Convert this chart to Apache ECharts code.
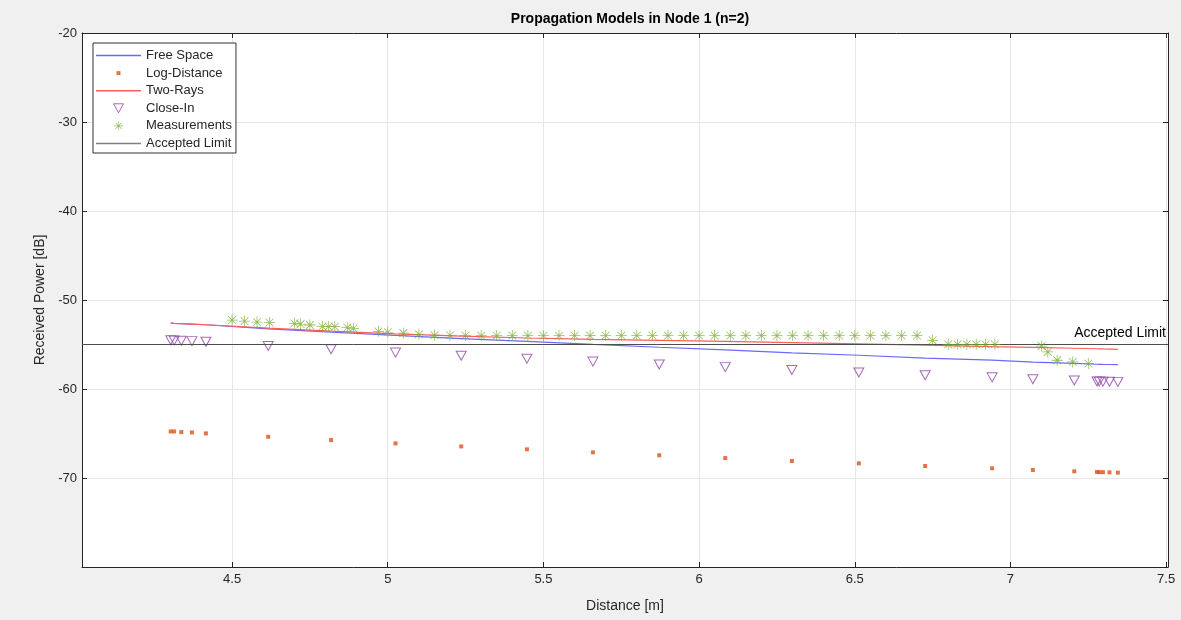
<!DOCTYPE html>
<html>
<head>
<meta charset="utf-8">
<title>Propagation Models in Node 1 (n=2)</title>
<script src="https://cdn.jsdelivr.net/npm/echarts@6/dist/echarts.min.js"></script>
<style>
  html, body { margin: 0; padding: 0; background: #f0f0f0; }
  #chart { width: 1181px; height: 620px; }
</style>
</head>
<body>
<div id="chart"></div>
<script>
// distances of the model points [m]
const distances = [4.303, 4.314, 4.337, 4.371, 4.416, 4.616, 4.818, 5.025, 5.236, 5.447, 5.659, 5.872,
  6.084, 6.298, 6.513, 6.726, 6.941, 7.072, 7.205, 7.278, 7.285, 7.297, 7.318, 7.345];

// model curves [dB]
const freeSpace = [-52.60, -52.62, -52.66, -52.70, -52.78, -53.24, -53.61, -53.98, -54.34, -54.66, -54.99, -55.31,
  -55.61, -55.94, -56.21, -56.53, -56.76, -56.97, -57.12, -57.22, -57.23, -57.24, -57.25, -57.27];
const logDistance = [-64.77, -64.77, -64.84, -64.88, -64.99, -65.37, -65.74, -66.11, -66.45, -66.78, -67.12, -67.45,
  -67.76, -68.09, -68.35, -68.65, -68.91, -69.10, -69.25, -69.33, -69.34, -69.35, -69.37, -69.40];
const twoRays = [-52.60, -52.62, -52.66, -52.70, -52.78, -53.17, -53.50, -53.80, -54.05, -54.27, -54.42, -54.54,
  -54.66, -54.79, -54.93, -55.08, -55.24, -55.33, -55.42, -55.48, -55.49, -55.50, -55.51, -55.54];
const closeIn = [-54.53, -54.54, -54.58, -54.62, -54.70, -55.17, -55.54, -55.91, -56.27, -56.59, -56.92, -57.24,
  -57.54, -57.87, -58.14, -58.46, -58.69, -58.90, -59.05, -59.15, -59.16, -59.17, -59.18, -59.20];

// measured points
const measDistances = [4.50, 4.54, 4.58, 4.62, 4.70, 4.72, 4.75, 4.79, 4.81, 4.83, 4.87, 4.89,
  4.97, 5.00, 5.05, 5.10, 5.15, 5.20, 5.25, 5.30, 5.35, 5.40, 5.45, 5.50, 5.55, 5.60, 5.65, 5.70,
  5.75, 5.80, 5.85, 5.90, 5.95, 6.00, 6.05, 6.10, 6.15, 6.20, 6.25, 6.30, 6.35, 6.40, 6.45, 6.50,
  6.55, 6.60, 6.65, 6.70, 6.75, 6.80, 6.83, 6.86, 6.89, 6.92, 6.95, 7.10, 7.12, 7.15, 7.20, 7.25];
const measurements = [-52.25, -52.37, -52.48, -52.55, -52.62, -52.70, -52.81, -52.99, -52.99, -52.99, -53.11, -53.18,
  -53.52, -53.60, -53.71, -53.86, -53.94, -53.97, -54.00, -54.00, -54.00, -54.00, -54.00, -54.00, -54.00, -54.00, -54.00, -54.00,
  -54.00, -54.00, -54.00, -54.00, -54.00, -54.00, -54.00, -54.00, -54.00, -54.00, -54.00, -54.00, -54.00, -54.00, -54.00, -54.00,
  -54.00, -54.00, -54.00, -54.00, -54.53, -54.98, -54.98, -54.98, -54.98, -54.98, -54.98, -55.17, -55.84, -56.77, -56.96, -57.14];

const acceptedLimit = -55;

// axis ticks
const xTicks = [4.5, 5, 5.5, 6, 6.5, 7, 7.5];
const yTicks = [-70, -60, -50, -40, -30, -20];

const pairs = (xs, ys) => xs.map((x, i) => [x, ys[i]]);

// asterisk marker (+ and x overlaid)
const asterisk = "path://M0 9.3H20V10.7H0Z M9.3 0H10.7V20H9.3Z " +
  "M3.43 2.44L17.56 16.57L16.57 17.56L2.44 3.43Z M16.57 2.44L17.56 3.43L3.43 17.56L2.44 16.57Z";

// legend icons (kept to aspect inside a 45x9 box)
const lineIcon = "path://M0 0H45V1.5H0Z";
const dotIcon = "path://M0 0M9 9M2.5 2.5H6.5V6.5H2.5Z";
const triIcon = "path://M0 0H10L5 9Z";

const font = "'Liberation Sans', Arial, Helvetica, sans-serif";
const axisColor = "#262626";
const freeColor = "#6a6aff";
const twoRayColor = "#ff5c5c";
const limitColor = "#4d4d4d";

var chart = echarts.init(document.getElementById("chart"));

function xAxisFor(pos, labels) {
  return {
    type: "value",
    position: pos,
    min: 4.018,
    max: 7.506,
    axisLine: { show: true, onZero: false, lineStyle: { color: axisColor, width: 1 } },
    axisTick: { show: true, inside: true, length: 5, customValues: xTicks, lineStyle: { color: axisColor } },
    axisLabel: {
      show: labels,
      customValues: xTicks,
      margin: 6,
      color: axisColor,
      fontFamily: font,
      fontSize: 13,
    },
    splitLine: { show: labels, lineStyle: { color: "#e6e6e6", width: 1 } },
    name: labels ? "Distance [m]" : "",
    nameLocation: "middle",
    nameGap: 32,
    nameTextStyle: { color: axisColor, fontFamily: font, fontSize: 14 },
  };
}

function yAxisFor(pos, labels) {
  return {
    type: "value",
    position: pos,
    min: -80,
    max: -20,
    axisLine: { show: true, onZero: false, lineStyle: { color: axisColor, width: 1 } },
    axisTick: { show: true, inside: true, length: 5, customValues: yTicks, lineStyle: { color: axisColor } },
    axisLabel: {
      show: labels,
      customValues: yTicks,
      margin: 5,
      color: axisColor,
      fontFamily: font,
      fontSize: 13,
    },
    splitLine: { show: labels, lineStyle: { color: "#e6e6e6", width: 1 } },
    name: labels ? "Received Power [dB]" : "",
    nameLocation: "middle",
    nameGap: 30,
    nameTextStyle: { color: axisColor, fontFamily: font, fontSize: 14 },
  };
}

var option = {
  animation: false,
  backgroundColor: "#f0f0f0",
  title: {
    text: "Propagation Models in Node 1 (n=2)",
    left: 625,
    textAlign: "center",
    top: 7,
    textStyle: { color: "#000", fontFamily: font, fontSize: 14, fontWeight: "bold" },
  },
  grid: {
    left: 82,
    right: 13,
    top: 33,
    bottom: 53,
    show: true,
    backgroundColor: "#fff",
    borderWidth: 0,
    outerBoundsMode: "none",
  },
  legend: {
    orient: "vertical",
    left: 93,
    top: 43,
    padding: [5, 4, 2, 3],
    itemWidth: 45,
    itemHeight: 9,
    itemGap: 2.6,
    symbolKeepAspect: true,
    backgroundColor: "#fff",
    borderColor: "#333",
    borderWidth: 1,
    borderRadius: 0,
    textStyle: { color: axisColor, fontFamily: font, fontSize: 13, lineHeight: 15 },
    data: [
      { name: "Free Space", icon: lineIcon, itemStyle: { color: freeColor, borderColor: freeColor, borderWidth: 0 } },
      { name: "Log-Distance", icon: dotIcon, itemStyle: { borderWidth: 0 } },
      { name: "Two-Rays", icon: lineIcon, itemStyle: { color: twoRayColor, borderColor: twoRayColor, borderWidth: 0 } },
      { name: "Close-In", icon: triIcon, itemStyle: { borderWidth: 1 } },
      { name: "Measurements", icon: asterisk, itemStyle: { borderWidth: 0 } },
      { name: "Accepted Limit", icon: lineIcon, itemStyle: { color: "#808080", borderColor: "#808080", borderWidth: 0 } },
    ],
  },
  xAxis: [xAxisFor("bottom", true), xAxisFor("top", false)],
  yAxis: [yAxisFor("left", true), yAxisFor("right", false)],
  series: [
    {
      name: "Free Space",
      type: "line",
      data: pairs(distances, freeSpace),
      symbol: "none",
      color: freeColor,
      itemStyle: { color: freeColor },
      lineStyle: { color: freeColor, width: 1.2 },
      z: 2,
    },
    {
      name: "Log-Distance",
      type: "scatter",
      data: pairs(distances, logDistance),
      symbol: "rect",
      symbolSize: 4,
      itemStyle: { color: "#d95319" },
      z: 3,
    },
    {
      name: "Two-Rays",
      type: "line",
      data: pairs(distances, twoRays),
      symbol: "none",
      color: twoRayColor,
      itemStyle: { color: twoRayColor },
      lineStyle: { color: twoRayColor, width: 1.2 },
      z: 2,
    },
    {
      name: "Close-In",
      type: "scatter",
      data: pairs(distances, closeIn),
      symbol: "triangle",
      symbolRotate: 180,
      symbolSize: [10, 9],
      itemStyle: { color: "rgba(255,255,255,0)", borderColor: "#8e44a6", borderWidth: 1 },
      z: 4,
    },
    {
      name: "Measurements",
      type: "scatter",
      data: pairs(measDistances, measurements),
      symbol: asterisk,
      symbolSize: 11,
      itemStyle: { color: "#77ac30" },
      z: 5,
    },
    {
      name: "Accepted Limit",
      type: "line",
      data: [],
      symbol: "none",
      color: limitColor,
      lineStyle: { color: limitColor, width: 1 },
      markLine: {
        silent: true,
        symbol: ["none", "none"],
        lineStyle: { color: limitColor, width: 1, type: "solid" },
        label: {
          show: true,
          position: "insideEndTop",
          formatter: "Accepted Limit",
          color: "#000",
          fontFamily: font,
          fontSize: 14,
          distance: [2, 4],
        },
        data: [{ yAxis: acceptedLimit }],
      },
      z: 1,
    },
  ],
};

chart.setOption(option);
</script>
</body>
</html>
